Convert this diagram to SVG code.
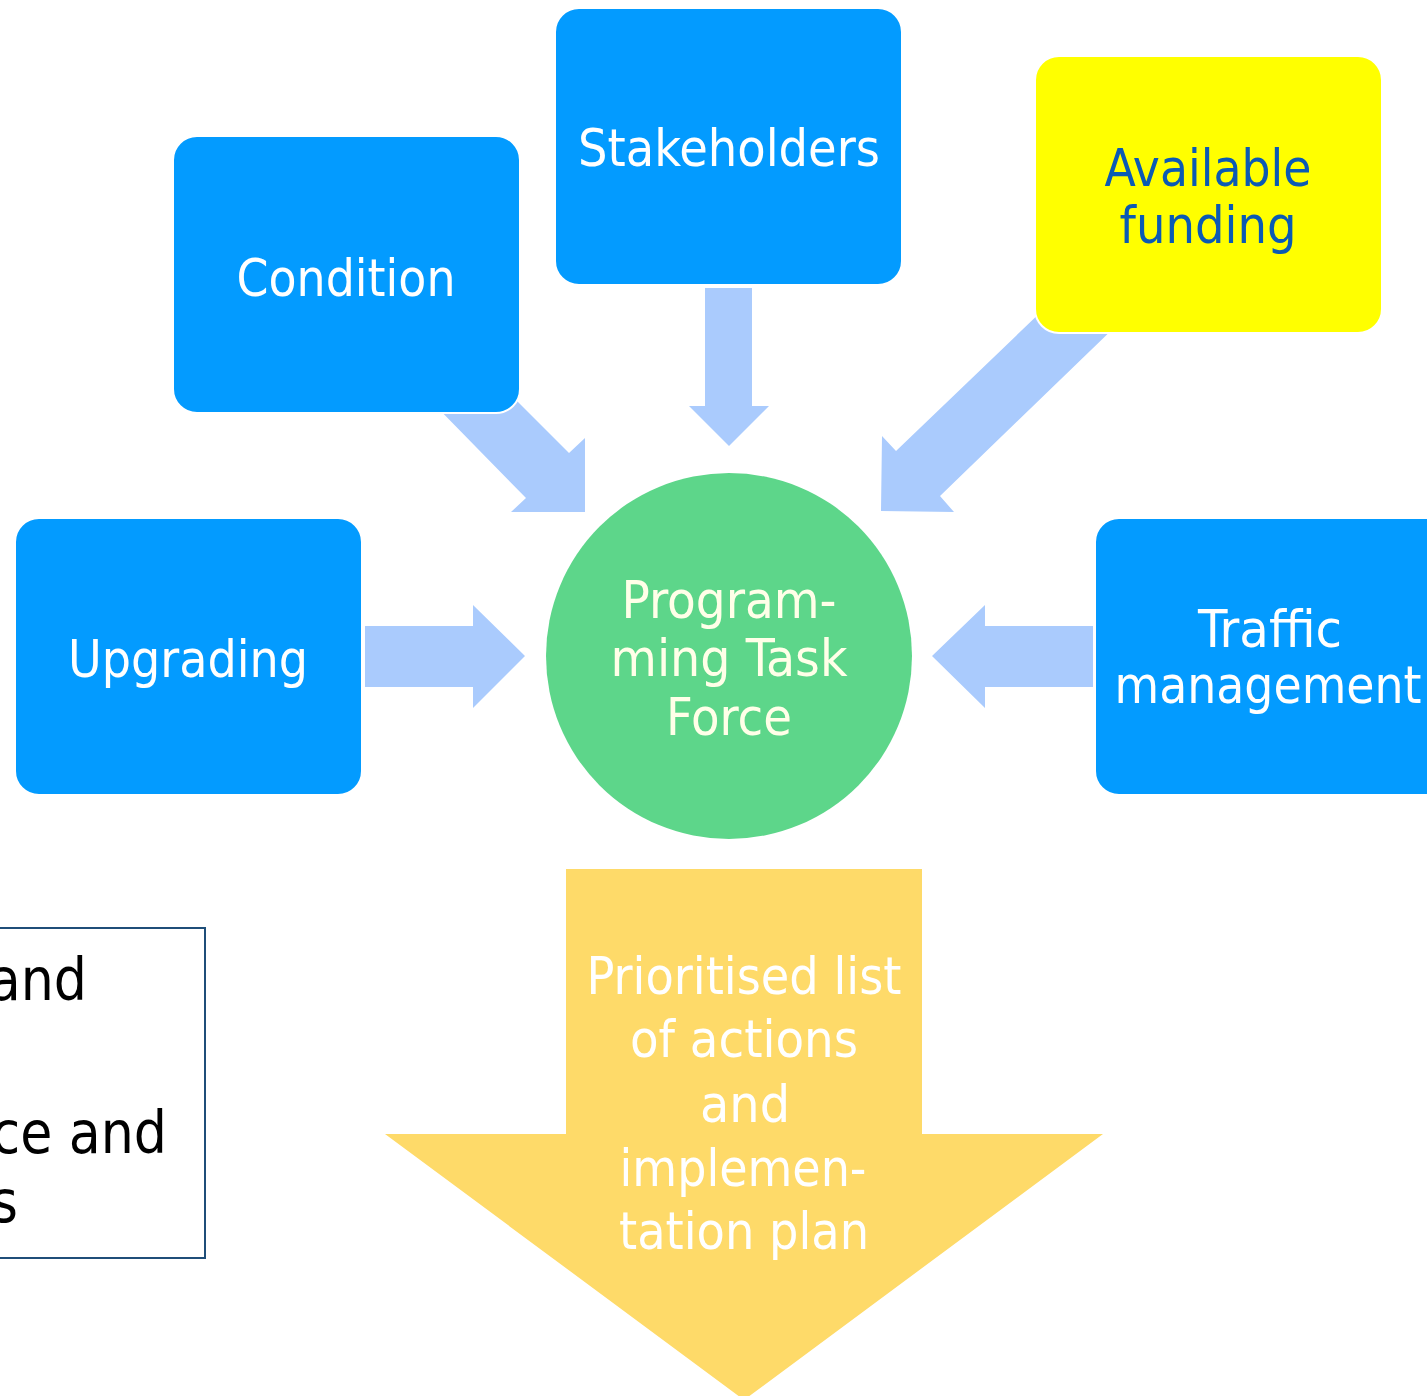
<svg xmlns="http://www.w3.org/2000/svg" width="1427" height="1396" viewBox="0 0 1427 1396">
<style>
.node{fill:#039BFF;stroke:#FFFFFF;stroke-width:2}
.t{font-family:"DejaVu Sans Condensed","DejaVu Sans",sans-serif;font-size:52px;text-anchor:middle;fill:#FFFFFF}
.arr{fill:#AACBFD}
.blk{font-family:"DejaVu Sans Condensed","DejaVu Sans",sans-serif;font-size:58px;text-anchor:end;fill:#000000}
</style>
<rect width="1427" height="1396" fill="#FFFFFF"/>
<g id="connectors">
<polygon class="arr" points="705,288 752,288 752,406 769,406 729,446 689,406 705,406"/>
<polygon class="arr" points="365,626 473,626 473,605 525,656 473,708 473,687 365,687"/>
<polygon class="arr" points="1093,626 985,626 985,605 932,656 985,708 985,687 1093,687"/>
<polygon class="arr" points="430,400 526,498 511,512 585,512 585,438 569,453 490,374"/>
<polygon class="arr" points="1045,308 896,451 882,436 881,511 954,512 940,496 1120,322"/>
<g id="output-arrow">
<polygon fill="#FEDA69" points="566,869 922,869 922,1134 1103,1134 744,1400 385,1134 566,1134"/>
</g>
</g>
<g id="condition"><rect class="node" x="173" y="136" width="347" height="277" rx="24"/><text class="t" x="346" y="296" textLength="219" lengthAdjust="spacingAndGlyphs">Condition</text></g>
<g id="stakeholders"><rect class="node" x="555" y="8" width="347" height="277" rx="24"/><text class="t" x="729" y="166" textLength="302" lengthAdjust="spacingAndGlyphs">Stakeholders</text></g>
<g id="funding"><rect x="1035" y="56" width="347" height="277" rx="24" fill="#FFFF00" stroke="#FFFFFF" stroke-width="2"/><text class="t" fill="#0B5AB4" style="fill:#0B5AB4" x="1208" y="186" textLength="207" lengthAdjust="spacingAndGlyphs">Available</text><text class="t" style="fill:#0B5AB4" x="1208" y="243" textLength="177" lengthAdjust="spacingAndGlyphs">funding</text></g>
<g id="upgrading"><rect class="node" x="15" y="518" width="347" height="277" rx="24"/><text class="t" x="188" y="677" textLength="240" lengthAdjust="spacingAndGlyphs">Upgrading</text></g>
<g id="traffic"><rect class="node" x="1095" y="518" width="360" height="277" rx="24"/><text class="t" x="1270" y="647" textLength="144" lengthAdjust="spacingAndGlyphs">Traffic</text><text class="t" x="1268" y="703" textLength="307" lengthAdjust="spacingAndGlyphs">management</text></g>
<g id="taskforce"><circle cx="729" cy="656" r="183" fill="#5DD68A"/><text class="t" style="fill:#FFFFE8" x="729" y="618" textLength="215" lengthAdjust="spacingAndGlyphs">Program-</text><text class="t" style="fill:#FFFFE8" x="729" y="676" textLength="237" lengthAdjust="spacingAndGlyphs">ming Task</text><text class="t" style="fill:#FFFFE8" x="729" y="735" textLength="126" lengthAdjust="spacingAndGlyphs">Force</text></g>
<g id="output-text"><text class="t" x="744" y="994" textLength="315" lengthAdjust="spacingAndGlyphs">Prioritised list</text><text class="t" x="744" y="1057" textLength="228" lengthAdjust="spacingAndGlyphs">of actions</text><text class="t" x="745" y="1122" textLength="90" lengthAdjust="spacingAndGlyphs">and</text><text class="t" x="743" y="1186" textLength="247" lengthAdjust="spacingAndGlyphs">implemen-</text><text class="t" x="744" y="1249" textLength="250" lengthAdjust="spacingAndGlyphs">tation plan</text></g>
<g id="left-box"><rect x="-20" y="928" width="225" height="330" fill="#FFFFFF" stroke="#1F4E79" stroke-width="2"/><text class="blk" x="87" y="1000">and</text><text class="blk" x="167" y="1153">ce and</text><text class="blk" x="18" y="1222">s</text></g>
</svg>
